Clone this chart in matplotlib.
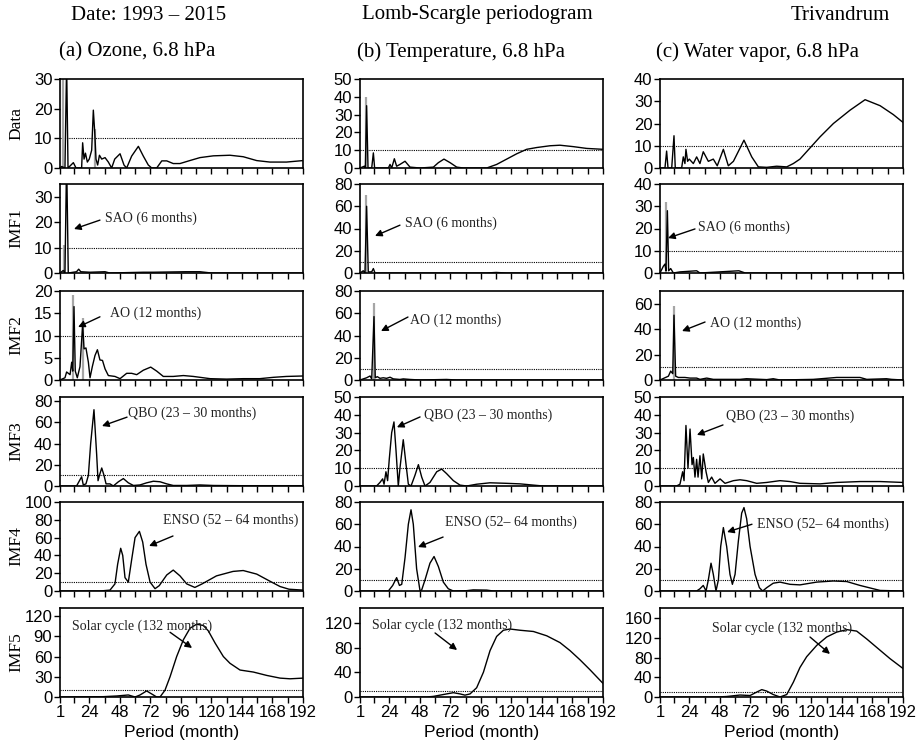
import matplotlib
matplotlib.use("Agg")
import matplotlib.pyplot as plt
from matplotlib.ticker import FixedLocator

# ---------------- data (period in months, Lomb-Scargle power) ----------------
# Column (a) Ozone
oz_data_p = [1, 2.3, 4.9, 6.2, 7.3, 11.5, 13.6, 18, 18.8, 19.9, 21, 22.5, 24, 25.9, 27.2, 28.3, 29.3, 30.6, 32, 33.8, 36.4, 39, 41.6, 44, 48.2, 51.3, 53.4, 57.3, 62.6, 66.5, 70.4, 73.1, 77, 81, 84.9, 90, 95.3, 103, 111, 121.5, 134.6, 145, 155.6, 166, 179, 192]
oz_data_v = [0, 0.5, 0, 35, 0, 1.8, 0, 0, 8.5, 3, 5, 2, 3, 6, 19.5, 12, 3, 1, 4.3, 3, 3.5, 2, 0, 3, 4.8, 1, 0, 4, 7.3, 4, 1, 0, 0, 2.4, 2.4, 1.5, 1.5, 2.5, 3.5, 4.1, 4.3, 3.8, 2.5, 2, 2, 2.5]
oz_imf1_p = [1, 3.6, 4.9, 6.2, 7.5, 14, 15.7, 17.3, 24.6, 36.4, 40, 66.5, 74, 100, 111, 120, 192]
oz_imf1_v = [0, 1, 0, 45, 0, 0.5, 1.5, 0.5, 0.3, 0.5, 0, 0.3, 0.3, 0.5, 0.5, 0, 0]
oz_imf2_p = [1, 4.9, 6.2, 8.9, 10.2, 11, 12, 13, 14.6, 16.7, 18.8, 19.9, 21.4, 23.3, 24.6, 26.4, 28.5, 30.4, 32.4, 34.4, 36.4, 39, 44.2, 48.2, 53.4, 57.3, 61.3, 66.5, 72.3, 77, 82.2, 90, 98, 105.8, 119, 132, 145, 158, 168.7, 179, 192]
oz_imf2_v = [0, 0.5, 1.8, 1.2, 4, 2, 16.5, 2, 0.5, 3, 12.5, 7, 7.2, 4, 0.5, 3, 5.5, 6.8, 4.5, 4.4, 2.5, 1, 0.8, 0.3, 1.5, 1.5, 1.2, 2.2, 2.9, 2, 0.8, 0.8, 1, 0.8, 0.3, 0.2, 0.3, 0.3, 0.6, 0.8, 0.9]
oz_imf3_p = [1, 14, 18, 19.3, 21.4, 23.3, 25.1, 27.7, 29.8, 30.9, 32, 33.8, 35.6, 37.2, 40.3, 42.9, 46.9, 50.8, 54.7, 58.7, 63.9, 69.1, 74.4, 79.6, 84.9, 90, 100.6, 111, 121.5, 142.5, 163.5, 192]
oz_imf3_v = [0, 0, 8.7, 1, 2, 10, 40, 72, 30, 5, 10, 17, 10, 2, 2, 0, 4, 7, 3, 0.5, 1, 3, 4.5, 4, 2, 0.5, 0.5, 1, 0.5, 0.3, 0.3, 0.3]
oz_imf4_p = [1, 32.4, 40.3, 44.2, 46.3, 48.7, 50.3, 52.1, 54.7, 57.3, 60, 63.4, 66, 68.6, 71.8, 75.7, 79, 84.9, 90, 95.3, 100.6, 107, 112.7, 124, 137, 145, 155.6, 166, 174, 181, 192]
oz_imf4_v = [0, 0, 1, 8, 30, 48, 40, 15, 10, 35, 60, 67, 55, 30, 10, 2.6, 6, 18, 23.5, 17, 8, 4, 8, 17, 22, 23, 19, 11, 5, 2, 1]
oz_imf5_p = [1, 35, 45.5, 54.7, 60, 63.9, 69.1, 74.4, 77, 79.6, 83.5, 87.5, 92.7, 98, 103.2, 108.4, 113.7, 117.6, 122.9, 129.4, 134.6, 142.5, 153, 163.5, 174, 181.8, 192]
oz_imf5_v = [0, 0.5, 1.5, 3, 0, 3, 9, 3, 0, 0, 10, 30, 60, 85, 102, 108, 106, 98, 80, 60, 50, 40, 37, 32, 28, 27, 28]

# Column (b) Temperature
te_data_p = [1, 4.4, 5.2, 6.2, 7.3, 10.2, 11.5, 12.5, 23.3, 24.6, 25.9, 28, 29.8, 32.4, 36.4, 40.3, 48.2, 58.7, 62.6, 67, 71.8, 77, 82.2, 100.6, 108.4, 116.3, 124.2, 132, 139.9, 150.4, 158.2, 168.7, 179.2, 192]
te_data_v = [0, 1, 0, 35, 0, 0, 8.5, 0, 0, 2, 0, 5.2, 1, 2, 3.8, 0.5, 0, 0.5, 3, 5, 3, 0.5, 0, 0, 2, 5, 8, 10.5, 11.5, 12.5, 12.8, 12, 11, 10.5]
te_imf1_p = [1, 3.6, 4.9, 6.2, 7.5, 10.2, 11.5, 12.8, 100, 108, 116, 192]
te_imf1_v = [0, 2, 0, 60, 1, 1, 4, 0, 0, 0.5, 0, 0]
te_imf2_p = [1, 6.2, 8.9, 10.2, 12, 13, 14.6, 16.7, 19.3, 21.9, 24.6, 27.2, 32.4, 35, 40.3, 48.2, 69, 77, 192]
te_imf2_v = [0, 2, 3.6, 1, 57, 2, 3, 1.5, 2, 1.5, 2.5, 1, 0.5, 1, 0.5, 0, 0.5, 0, 0]
te_imf3_p = [1, 14, 16.7, 18.8, 19.9, 21.4, 22.7, 24, 25.9, 27.7, 29.3, 31.1, 32.4, 35, 37.2, 39, 41.1, 44.2, 46.9, 49.5, 52.1, 56, 61.3, 65.2, 69, 74.4, 79.6, 84.9, 92.7, 103.2, 116.3, 126.8, 137.3, 145, 192]
te_imf3_v = [0, 0, 2, 4, 1, 8, 3, 15, 30, 36, 20, 0, 10, 26, 12, 1, 0, 6, 12, 5, 0, 2, 8, 9.5, 7, 3, 0.5, 0, 1, 1.8, 1.5, 1.2, 0.5, 0, 0]
te_imf4_p = [1, 23.3, 26.7, 29.8, 32, 33.8, 36.4, 39, 41.1, 42.9, 45.5, 48.2, 49.5, 52.1, 56, 59.2, 62.6, 66.5, 70.4, 74.4, 84.9, 90, 100.6, 105.8, 192]
te_imf4_v = [0, 0, 5, 12, 5, 6, 30, 60, 73, 60, 20, 0, 1, 10, 25, 31, 22, 8, 2, 0, 0.3, 1, 0.8, 0, 0]
te_imf5_p = [1, 53.4, 58.7, 66.5, 74.4, 79.6, 83.5, 87.5, 92.7, 98, 103.2, 108.4, 113.7, 118.9, 126.8, 137.3, 147.8, 158.2, 166.1, 174, 181.8, 192]
te_imf5_v = [0, 0, 1, 4, 7, 5, 3, 5, 15, 40, 75, 98, 108, 110, 108, 106, 99, 88, 75, 60, 44, 22]

# Column (c) Water vapor
wv_data_p = [1, 4.9, 6.2, 7.3, 10.2, 12, 13, 18, 19.3, 20.6, 21.4, 22.7, 24, 27.2, 29.8, 32.4, 35, 39, 42.9, 46, 50.8, 54.7, 58.7, 67, 73.1, 78.3, 84.9, 92.7, 100.6, 105.8, 111, 118.9, 126.8, 137.3, 150.4, 162.2, 174, 184.4, 192]
wv_data_v = [0, 0, 7.6, 0, 0, 14.5, 0, 0, 5, 2, 8.4, 3, 4, 2, 5, 2, 7.3, 3, 4, 1, 8.4, 1, 3, 12.5, 5, 0.5, 0.3, 0.8, 0.5, 2, 4, 9, 14, 20, 26, 30.7, 28, 24, 20.5]
wv_imf1_p = [1, 3.6, 4.9, 5.7, 6.8, 7.8, 9.4, 11.5, 16.7, 29.8, 32.4, 63, 68, 192]
wv_imf1_v = [0, 3, 4, 1, 28, 1, 2, 0, 0.5, 1, 0, 1, 0, 0]
wv_imf2_p = [1, 7.6, 9.4, 11, 12, 13.3, 15.4, 18, 20.6, 24.6, 29.8, 32.4, 37.7, 42.9, 63.9, 69, 84.9, 90, 95.3, 121.5, 139.9, 158.2, 163.5, 179, 183, 192]
wv_imf2_v = [0, 3, 7, 5, 51, 3, 2, 2, 2, 1.5, 1.5, 0.5, 1.5, 0.5, 0.5, 1, 0.3, 1, 0, 0.5, 2, 2, 0.5, 1, 0.5, 0]
wv_imf3_p = [1, 14, 16.7, 18.8, 19.9, 21.4, 23, 24.6, 26.2, 27.2, 28.5, 29.8, 30.9, 32.4, 33.8, 35, 37.2, 39, 41.6, 44.2, 48.2, 52.1, 58.7, 63.9, 69.1, 77, 84.9, 95.3, 103.2, 111, 126.8, 140, 158.2, 174, 192]
wv_imf3_v = [0, 0, 1, 8, 3, 34, 10, 32, 12, 16, 5, 15, 5, 17, 4, 18, 8, 2, 5, 1.5, 4, 1.5, 3, 3.5, 3, 1.5, 2, 3, 2.5, 1.5, 1.2, 2, 2.5, 2.5, 2]
wv_imf4_p = [1, 29.8, 32.4, 35, 37.2, 39, 41.1, 42.9, 45, 46.9, 48.7, 50.8, 53.4, 56, 57.9, 60, 62.6, 65.2, 67, 69.1, 71.8, 75.7, 79.1, 81.7, 84.9, 90, 95.3, 103.2, 111, 124.2, 137.3, 147.8, 158.2, 168.7, 174, 192]
wv_imf4_v = [0, 0, 2, 5, 0, 10, 25, 15, 0, 10, 40, 57, 40, 15, 6, 15, 45, 70, 75, 65, 40, 15, 3, 0, 3, 7, 8, 6, 5.5, 8, 9, 8.5, 5, 2, 0.5, 0]
wv_imf5_p = [1, 45.5, 53.4, 63.9, 71.8, 77, 81, 84.9, 90, 95.3, 100.6, 105.8, 111, 116.3, 124.2, 132, 139.9, 147.8, 155.6, 163.5, 174, 181.8, 192]
wv_imf5_v = [0, 0, 1, 4, 3, 10, 15, 12, 5, 0, 5, 30, 60, 82, 105, 122, 132, 137, 134, 118, 95, 78, 58]

# grey (original) spectral spikes behind the black curves
oz_grey_p = [[3.5, 28.5], [4.5], [11.5, 19], [], [], []]
oz_grey_v = [[32, 13], [11], [19, 14], [], [], []]
te_grey_p = [[6], [5.5], [12], [], [], []]
te_grey_v = [[40], [70], [69], [], [], []]
wv_grey_p = [[], [6], [12], [], [], []]
wv_grey_v = [[], [32], [58], [], [], []]

# axis setup
row_labels = ["Data", "IMF1", "IMF2", "IMF3", "IMF4", "IMF5"]
x_major = [1, 24, 48, 72, 96, 120, 144, 168, 192]
x_minor = [12, 36, 60, 84, 108, 132, 156, 180]
oz_ylim = [30, 35, 20, 84, 100, 132]
te_ylim = [50, 80, 80, 50, 80, 144]
wv_ylim = [40, 40, 70, 50, 80, 181]
oz_yticks = [[0, 10, 20, 30], [0, 10, 20, 30], [0, 5, 10, 15, 20], [0, 20, 40, 60, 80], [0, 20, 40, 60, 80, 100], [0, 30, 60, 90, 120]]
te_yticks = [[0, 10, 20, 30, 40, 50], [0, 20, 40, 60, 80], [0, 20, 40, 60, 80], [0, 10, 20, 30, 40, 50], [0, 20, 40, 60, 80], [0, 40, 80, 120]]
wv_yticks = [[0, 10, 20, 30, 40], [0, 10, 20, 30, 40], [0, 20, 40, 60], [0, 10, 20, 30, 40, 50], [0, 20, 40, 60, 80], [0, 40, 80, 120, 160]]
threshold = 10

col_titles = ["Date: 1993 \u2013 2015", "Lomb-Scargle periodogram", "Trivandrum"]
sub_titles = ["(a) Ozone, 6.8 hPa", "(b) Temperature, 6.8 hPa", "(c) Water vapor, 6.8 hPa"]

# annotations: (row, text, text_x, text_y, tail_x, tail_y, head_x, head_y)
oz_notes = [
    (1, "SAO (6 months)", 36.4, 21.6, 32.4, 20.8, 12, 17.3),
    (2, "AO (12 months)", 40.3, 15, 32.4, 14.2, 15.2, 11.9),
    (3, "QBO (23 \u2013 30 months)", 54.5, 69, 53.7, 65, 34, 56.6),
    (4, "ENSO (52 \u2013 64 months)", 82, 79, 89.8, 61.8, 71, 50.6),
    (5, "Solar cycle (132 months)", 10.4, 105, 87.5, 96, 104.8, 72.7),
]
te_notes = [
    (1, "SAO (6 months)", 36.4, 45, 32.4, 43, 12.8, 33.3),
    (2, "AO (12 months)", 40.3, 54, 38.7, 56.6, 17.5, 44),
    (3, "QBO (23 \u2013 30 months)", 51.3, 40, 48.2, 38.8, 30, 33),
    (4, "ENSO (52\u2013 64 months)", 67.8, 62, 66.3, 48.5, 46.6, 39.5),
    (5, "Solar cycle (132 months)", 10.4, 116.5, 60, 103.6, 77.3, 76),
]
wv_notes = [
    (1, "SAO (6 months)", 30.9, 20.7, 28.5, 19.8, 7.3, 15.7),
    (2, "AO (12 months)", 40.3, 44.8, 36.4, 45.6, 18.3, 38.5),
    (3, "QBO (23 \u2013 30 months)", 52.9, 39.3, 50.5, 34.3, 30, 28.7),
    (4, "ENSO (52\u2013 64 months)", 77.3, 60, 73.3, 60, 53.7, 53),
    (5, "Solar cycle (132 months)", 41.9, 140, 118.9, 122, 134.6, 87.5),
]

columns = [
    dict(p=[oz_data_p, oz_imf1_p, oz_imf2_p, oz_imf3_p, oz_imf4_p, oz_imf5_p],
         v=[oz_data_v, oz_imf1_v, oz_imf2_v, oz_imf3_v, oz_imf4_v, oz_imf5_v],
         gp=oz_grey_p, gv=oz_grey_v, ylim=oz_ylim, yt=oz_yticks, notes=oz_notes),
    dict(p=[te_data_p, te_imf1_p, te_imf2_p, te_imf3_p, te_imf4_p, te_imf5_p],
         v=[te_data_v, te_imf1_v, te_imf2_v, te_imf3_v, te_imf4_v, te_imf5_v],
         gp=te_grey_p, gv=te_grey_v, ylim=te_ylim, yt=te_yticks, notes=te_notes),
    dict(p=[wv_data_p, wv_imf1_p, wv_imf2_p, wv_imf3_p, wv_imf4_p, wv_imf5_p],
         v=[wv_data_v, wv_imf1_v, wv_imf2_v, wv_imf3_v, wv_imf4_v, wv_imf5_v],
         gp=wv_grey_p, gv=wv_grey_v, ylim=wv_ylim, yt=wv_yticks, notes=wv_notes),
]

# ---------------- figure ----------------
W, H = 919, 748
fig = plt.figure(figsize=(W / 100, H / 100), dpi=100)
SERIF = "Liberation Serif"
SANS = "Liberation Sans"

col_left = [60, 360, 660]
ax_w = 243
row_top = [79, 184, 291, 397, 502, 608]
ax_h = 89

title_x = [149, 477, 840]
sub_x = [137, 461, 757]

for c, col in enumerate(columns):
    fig.text(title_x[c] / W, 1 - 15 / H, col_titles[c], ha="center", va="center",
             family=SERIF, fontsize=15)
    fig.text(sub_x[c] / W, 1 - 52 / H, sub_titles[c], ha="center", va="center",
             family=SERIF, fontsize=15)
    fig.text((col_left[c] + ax_w / 2) / W, 1 - 733 / H, "Period (month)",
             ha="center", va="center", family=SANS, fontsize=12.5)
    for r in range(6):
        bottom = 1 - (row_top[r] + ax_h) / H
        ax = fig.add_axes([col_left[c] / W, bottom, ax_w / W, ax_h / H])
        for gx, gh in zip(col["gp"][r], col["gv"][r]):
            ax.vlines(gx, 0, gh, color="0.65", lw=1.6, zorder=2)
        ax.plot(col["p"][r], col["v"][r], color="black", lw=1.0, zorder=3)
        ax.axhline(threshold, color="black", lw=0.8, ls=(0, (1, 1)), zorder=1)
        ax.set_xlim(1, 192)
        ax.set_ylim(0, col["ylim"][r])
        ax.xaxis.set_major_locator(FixedLocator(x_major))
        ax.xaxis.set_minor_locator(FixedLocator(x_minor))
        ax.set_yticks(col["yt"][r])
        ax.tick_params(axis="both", which="both", direction="out", top=False, right=False,
                       labelsize=12, pad=1.5, width=1.0)
        ax.tick_params(axis="both", which="major", length=4)
        ax.tick_params(axis="x", which="minor", length=4)
        for lab in ax.get_xticklabels() + ax.get_yticklabels():
            lab.set_family(SANS)
        for s in ax.spines.values():
            s.set_linewidth(1.2)
        if r < 5:
            ax.tick_params(axis="x", labelbottom=False)
        else:
            ax.set_xticklabels([str(v) for v in x_major])
        if c == 0:
            ax.set_ylabel(row_labels[r], family=SERIF, fontsize=12.5)
            ax.yaxis.set_label_coords(-0.145, 0.5)
        for (nr, txt, tx, ty, ax0, ay0, hx, hy) in col["notes"]:
            if nr == r:
                ax.text(tx, ty, txt, ha="left", va="center", family=SERIF,
                        fontsize=10, color="#222222", zorder=4)
                ax.annotate("", xy=(hx, hy), xytext=(ax0, ay0),
                            arrowprops=dict(arrowstyle="-|>", color="black", lw=1.0,
                                            mutation_scale=10, shrinkA=0, shrinkB=0),
                            zorder=4)

fig.savefig("out.png", dpi=100)
